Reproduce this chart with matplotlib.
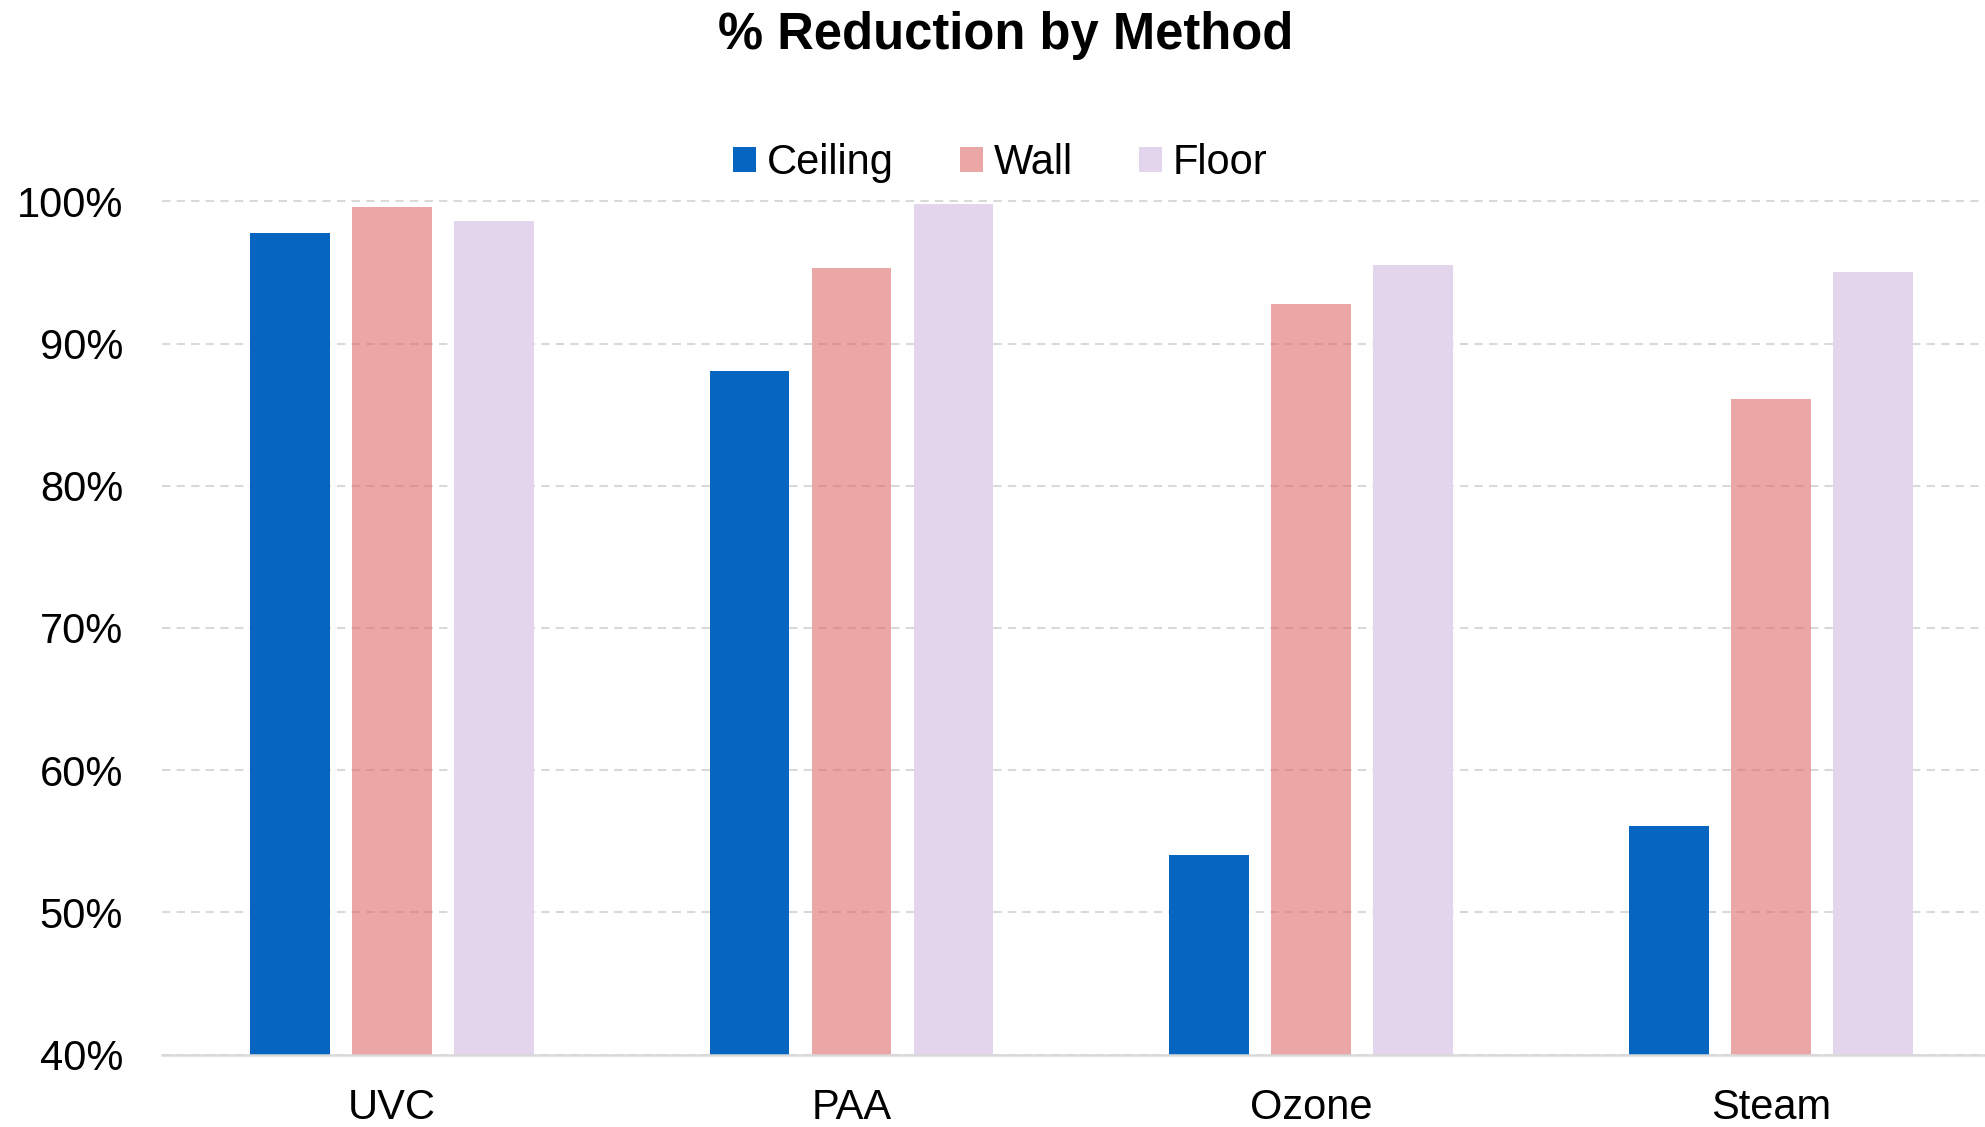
import matplotlib
matplotlib.use("Agg")
import matplotlib.pyplot as plt
import numpy as np
from matplotlib.ticker import FuncFormatter

plt.rcParams['font.family'] = ['Liberation Sans', 'DejaVu Sans']

methods = ['UVC', 'PAA', 'Ozone', 'Steam']
ceiling = [97.8, 88.1, 54.0, 56.1]
wall = [99.6, 95.3, 92.8, 86.1]
floor = [98.6, 99.8, 95.5, 95.0]

series = [('Ceiling', ceiling, '#0565C0', 1.0),
          ('Wall', wall, '#DE6B6B', 0.6),
          ('Floor', floor, '#E2D5EC', 1.0)]

fig = plt.figure(figsize=(19.85, 11.27), dpi=100)
ax = fig.add_axes([0.0816, 0.0643, 0.9184, 0.7596])

x = np.arange(len(methods))
step = 0.2218
width = 0.1736
for i, (name, vals, color, alpha) in enumerate(series):
    ax.bar(x + (i - 1) * step, vals, width, color=color, alpha=alpha,
           label=name, zorder=2)

ax.set_xlim(-0.5, 3.466)
ax.set_ylim(40, 100.2)
ax.set_yticks(np.arange(40, 101, 10))
ax.yaxis.set_major_formatter(FuncFormatter(lambda v, p: f'{v:.0f}%'))
ax.set_xticks(x)
ax.set_xticklabels(methods)

# dashed gridlines, pink bars are see-through
ax.grid(axis='y', color='#d9d9d9', linestyle=(0, (4, 3)), linewidth=1.5, zorder=0)
ax.set_axisbelow(True)

for s in ['left', 'right', 'top']:
    ax.spines[s].set_visible(False)
ax.spines['bottom'].set_color('#d9d9d9')
ax.spines['bottom'].set_linewidth(1.8)

ax.tick_params(axis='both', length=0, labelsize=30)
ax.tick_params(axis='y', pad=28)
ax.tick_params(axis='x', pad=24)

fig.legend(loc='center', bbox_to_anchor=(0.504, 0.855), ncol=3, frameon=False,
           fontsize=30, handlelength=0.55, handleheight=0.55,
           handletextpad=0.25, columnspacing=1.6)

fig.text(0.5065, 1 - 36 / 1127, '% Reduction by Method', ha='center', va='center',
         fontsize=36.5, fontweight='bold')

fig.savefig('out.png', dpi=100)
